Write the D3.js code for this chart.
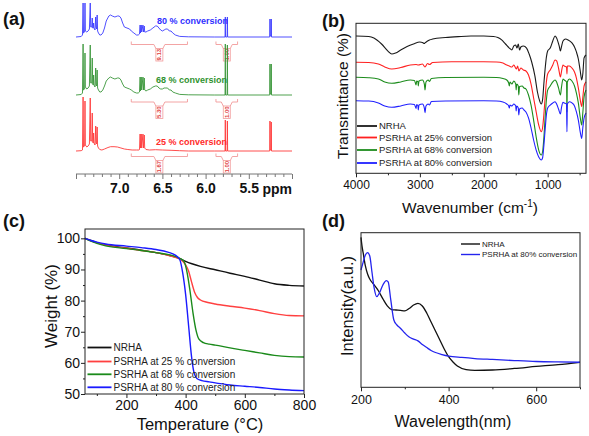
<!DOCTYPE html>
<html><head><meta charset="utf-8">
<script src="https://cdnjs.cloudflare.com/ajax/libs/d3/7.8.5/d3.min.js"></script>
<style>body{margin:0;background:#fff}svg{display:block}</style>
</head><body>
<svg id="c" width="589" height="436"></svg>
<script>
// ---------------- DATA ----------------
// (a) 1H NMR, [ppm, intensity a.u.]
const nmrBlue = [[7.5,0],[7.44,0.5],[7.425,2],[7.418,34],[7.413,4],[7.400,5],[7.396,34],[7.392,6],[7.375,5],[7.36,6],[7.345,8],[7.335,34],[7.330,10],[7.318,10],[7.312,19],[7.307,9],[7.30,9],[7.296,14],[7.292,9],[7.28,7],[7.272,20],[7.268,10],[7.262,8],[7.255,22],[7.25,6],[7.24,4],[7.225,2],[7.21,2],[7.19,4],[7.17,9],[7.15,16],[7.12,21],[7.10,22],[7.08,21],[7.05,20],[7.02,21],[7.0,21],[6.98,19],[6.96,14],[6.94,10],[6.91,9],[6.88,8],[6.86,6],[6.83,4],[6.80,2],[6.78,2],[6.765,3],[6.758,12],[6.754,4],[6.745,12],[6.74,5],[6.725,12],[6.72,5],[6.71,11],[6.705,5],[6.69,5],[6.67,6],[6.64,7],[6.61,9],[6.58,11],[6.56,11],[6.54,9],[6.52,7],[6.50,6],[6.48,7],[6.46,8],[6.44,8],[6.42,6],[6.40,6],[6.38,4],[6.35,2],[6.30,0.6],[6.2,0.2],[5.9,0],[5.775,0],[5.772,20],[5.769,0],[5.751,0],[5.748,20],[5.745,0],[5.258,0],[5.255,18],[5.252,1],[5.243,1],[5.240,18],[5.237,0],[5.0,0]];
const nmrGreen = [[7.5,0],[7.44,0.5],[7.425,2],[7.418,51],[7.413,5],[7.400,6],[7.396,42],[7.392,8],[7.375,6],[7.36,7],[7.345,9],[7.335,50],[7.330,12],[7.318,12],[7.312,37],[7.307,11],[7.30,10],[7.296,20],[7.292,10],[7.28,8],[7.272,27],[7.268,10],[7.262,9],[7.255,25],[7.25,7],[7.24,5],[7.225,3],[7.21,3],[7.19,5],[7.17,9],[7.15,14],[7.12,17],[7.10,18],[7.08,17],[7.05,16],[7.02,17],[7.0,17],[6.98,15],[6.96,11],[6.94,8],[6.91,7],[6.88,6],[6.86,5],[6.83,3],[6.80,2],[6.78,2],[6.765,3],[6.758,18],[6.754,4],[6.745,18],[6.74,5],[6.725,18],[6.72,5],[6.71,17],[6.705,5],[6.69,4],[6.67,5],[6.64,6],[6.61,8],[6.58,9],[6.56,9],[6.54,7],[6.52,6],[6.50,6],[6.48,7],[6.46,7],[6.44,7],[6.42,5],[6.40,5],[6.38,3],[6.35,2],[6.30,0.6],[6.2,0.2],[5.9,0],[5.775,0],[5.772,51],[5.769,0],[5.751,0],[5.748,50],[5.745,0],[5.258,0],[5.255,31],[5.252,1],[5.243,1],[5.240,31],[5.237,0],[5.0,0]];
const nmrRed = [[7.5,0],[7.44,0.3],[7.425,1],[7.418,54],[7.413,4],[7.400,5],[7.396,50],[7.392,6],[7.375,4],[7.36,5],[7.345,7],[7.335,53],[7.330,10],[7.318,10],[7.312,38],[7.307,9],[7.30,8],[7.296,18],[7.292,8],[7.28,6],[7.272,25],[7.268,8],[7.262,7],[7.255,24],[7.25,5],[7.24,3],[7.225,1.5],[7.20,1],[7.17,2],[7.13,3.5],[7.10,4.3],[7.06,4.3],[7.02,4],[6.98,3],[6.94,2],[6.90,1.5],[6.85,1],[6.80,1],[6.77,1],[6.765,1.5],[6.758,17],[6.754,3],[6.745,17],[6.74,3],[6.725,17],[6.72,3],[6.71,16],[6.705,3],[6.69,1.5],[6.65,1],[6.58,1.3],[6.5,1],[6.4,0.7],[6.3,0.3],[6.2,0],[5.9,0],[5.775,0],[5.772,31],[5.769,0],[5.751,0],[5.748,30],[5.745,0],[5.258,0],[5.255,30],[5.252,1],[5.243,1],[5.240,29],[5.237,0],[5.0,0]];
const nmrLabels = ["80 % conversion", "68 % conversion", "25 % conversion"];
const nmrIntegralValues = [["9.13","1.00"],["5.30","1.00"],["1.67","1.00"]];
const nmrIntegralRanges = [[6.86, 6.21], [5.88, 5.63]];
const nmrMajorTicks = [7.5, 7.0, 6.5, 6.0, 5.5, 5.0];
const nmrLabeledTicks = [7.0, 6.5, 6.0, 5.5];
const nmrMinorTicks = [7.4,7.3,7.2,7.1,6.9,6.8,6.7,6.6,6.4,6.3,6.2,6.1,5.9,5.8,5.7,5.6,5.4,5.3,5.2,5.1];

// (b) FTIR, [wavenumber, transmittance a.u.]
const irNRHA = [[4000,91.5],[3800,91.2],[3720,90.2],[3600,86.2],[3500,81.5],[3440,79.5],[3380,80.2],[3300,82.2],[3200,84.5],[3100,86.2],[3000,87.5],[2960,87.2],[2930,86.5],[2920,86.9],[2880,88.2],[2850,88.9],[2800,89.5],[2600,90.5],[2400,91.1],[2200,91.5],[2000,91.5],[1850,91.2],[1780,90.5],[1720,88.9],[1660,86.2],[1600,83.5],[1560,82.2],[1530,84.9],[1500,85.5],[1480,83.5],[1460,86.2],[1440,82.2],[1420,84.2],[1380,84.9],[1330,83.5],[1290,79.5],[1250,74.2],[1200,64.9],[1160,54.2],[1130,48.9],[1100,46.2],[1080,48.9],[1060,59.5],[1040,69.5],[1020,77.5],[1000,81.5],[960,83.5],[920,88.2],[885,91.5],[860,90.2],[820,84.9],[800,81.5],[785,84.2],[760,88.2],[720,89.5],[680,88.9],[620,86.9],[580,84.2],[550,80.9],[520,76.2],[490,68.2],[467,62.2],[450,66.2],[430,76.9],[400,78.9]];
const ir25 = [[4000,74],[3800,73.9],[3650,72.9],[3550,70.9],[3440,69.5],[3300,70.5],[3150,72.2],[3060,72.5],[3025,72.2],[2960,72.9],[2920,70.9],[2880,73.2],[2850,72.5],[2800,73.9],[2500,74.4],[2000,74.4],[1800,74.2],[1700,73.5],[1640,72.2],[1600,71.5],[1560,70.9],[1530,72.2],[1490,69.5],[1470,71.5],[1450,68.2],[1420,70.2],[1380,68.9],[1340,68.2],[1300,65.5],[1260,59.5],[1220,50.2],[1180,40.9],[1140,32.2],[1100,27.7],[1080,30.2],[1060,38.9],[1040,50.2],[1020,60.9],[1000,66.2],[960,68.9],[920,72.2],[885,75.5],[860,74.9],[830,70.2],[800,64.2],[785,67.5],[760,72.2],[740,71.5],[705,70.9],[698,66.2],[692,71.5],[660,71.5],[620,70.2],[580,67.5],[550,63.5],[520,56.9],[490,48.9],[467,44.5],[450,50.5],[430,58.2],[400,60.9]];
const ir68 = [[4000,64],[3800,63.7],[3650,62.9],[3550,60.9],[3440,60],[3300,60.9],[3150,62.2],[3085,61.9],[3060,58.9],[3050,61.5],[3030,60.9],[3025,58.2],[3015,61.5],[2960,62.2],[2930,59.5],[2920,55.5],[2905,60.9],[2870,62.2],[2850,61.2],[2820,63.2],[2600,63.9],[2000,64],[1800,63.9],[1700,63.2],[1640,62.2],[1610,60.2],[1600,58.2],[1590,60.9],[1560,59.5],[1530,61.5],[1500,59.5],[1493,55.5],[1485,59.5],[1460,58.2],[1452,52.2],[1440,57.9],[1400,58.2],[1370,56.9],[1340,56.2],[1300,52.2],[1260,45.5],[1220,35.5],[1180,24.2],[1140,15.5],[1100,12.2],[1080,14.2],[1060,23.5],[1040,36.9],[1020,48.9],[1000,55.5],[960,58.2],[920,60.9],[885,62.2],[860,60.9],[830,56.9],[800,52.2],[785,56.9],[760,62.9],[740,62.2],[705,60.9],[698,40.9],[692,60.9],[660,62.9],[620,61.5],[580,58.2],[550,53.5],[520,46.9],[490,37.2],[467,32.2],[450,40.2],[430,50.9],[400,55.5]];
const ir80 = [[4000,48.4],[3800,48.2],[3650,46.9],[3550,44.9],[3440,44],[3300,44.9],[3150,46.2],[3085,45.9],[3060,43.2],[3050,45.9],[3030,44.9],[3025,42.2],[3015,45.5],[2960,46.2],[2930,43.5],[2920,40.4],[2905,44.9],[2870,46.2],[2850,45.5],[2820,47.9],[2600,48.2],[2000,48.4],[1800,48.2],[1700,47.5],[1640,46.2],[1610,44.9],[1600,43.5],[1590,45.5],[1560,44.9],[1530,46.2],[1500,44.9],[1493,41.5],[1485,44.9],[1460,43.5],[1452,38.9],[1440,42.9],[1400,43.5],[1370,42.2],[1340,40.9],[1300,36.9],[1260,30.2],[1220,22.2],[1180,15.5],[1140,10.9],[1100,8.9],[1080,10.2],[1060,18.2],[1040,28.9],[1020,38.9],[1000,43.5],[960,45.5],[920,46.9],[885,47.7],[860,46.2],[830,42.9],[800,39.5],[785,43.5],[760,47.3],[740,46.9],[705,46.2],[698,27.7],[692,46.2],[660,47.7],[620,46.9],[580,44.9],[550,40.9],[520,35.5],[490,27.5],[467,23.3],[450,30.2],[430,36.9],[400,40.2]];
const irNames = ["NRHA", "PSRHA at 25% conversion", "PSRHA at 68% conversion", "PSRHA at 80% conversion"];
const irTicks = [4000, 3000, 2000, 1000];
const irMinorTicks = [3500, 2500, 1500, 500];

// (c) TGA, [temperature °C, weight %]
const tgaNRHA = [[60,100],[80,99.3],[100,98.6],[130,97.9],[200,96.9],[250,96.2],[300,95.4],[350,94.4],[380,93.5],[400,92.6],[450,91],[500,89.9],[550,88.8],[600,87.8],[650,86.6],[700,85.4],[750,84.9],[800,84.7]];
const tga25 = [[60,100],[80,99.2],[100,98.6],[130,97.8],[200,96.8],[250,96.1],[300,95.4],[350,94.3],[380,93.4],[400,91.5],[410,89.5],[420,86],[430,82.8],[440,81],[450,80.2],[475,79.4],[500,78.9],[550,78.2],[600,77.6],[650,76.8],[700,75.8],[750,75.2],[800,75.1]];
const tga68 = [[60,100],[80,99.1],[100,98.4],[130,97.6],[200,96.7],[250,96.1],[300,95.4],[350,94.6],[380,93.6],[395,92.5],[405,89],[415,83],[425,76],[435,70.5],[445,67.6],[460,66.5],[480,66],[500,65.7],[550,64.8],[600,64],[650,63.2],[700,62.4],[750,62],[800,61.9]];
const tga80 = [[60,100],[80,99.3],[100,98.8],[130,98.2],[200,97.5],[250,97],[300,96.4],[340,95.6],[365,94.6],[380,93.2],[390,89],[400,82],[410,72],[420,62],[428,57],[438,55],[455,54.3],[480,53.9],[550,52.9],[600,52.5],[650,52.1],[700,51.6],[750,51.3],[800,51.1]];
const tgaNames = ["NRHA", "PSRHA at 25 % conversion", "PSRHA at 68 % conversion", "PSRHA at 80 % conversion"];
const tgaXTicks = [200, 400, 600, 800];
const tgaXMinor = [100, 300, 500, 700];
const tgaYTicks = [50, 60, 70, 80, 90, 100];
const tgaYMinor = [55, 65, 75, 85, 95];

// (d) UV-vis, [wavelength nm, intensity a.u.]
const uvNRHA = [[200,97],[202,92],[205,86.9],[210,78.5],[215,73.3],[220,70],[230,66.2],[240,62.3],[250,57.2],[260,52.7],[270,50.3],[280,50],[290,49.7],[300,49.4],[310,51],[320,53.2],[330,54.3],[340,52.6],[350,48.1],[360,42.2],[370,36.4],[380,30.6],[390,24.8],[400,19.8],[410,16.4],[420,13.8],[440,11.5],[460,11],[500,11.2],[550,12.2],[600,13.5],[650,14.7],[700,16.2]];
const uvPSRHA = [[200,75.9],[205,81],[210,85.6],[215,87.1],[220,84.9],[225,74.6],[230,64.3],[236,58.6],[242,61],[250,66.2],[258,69],[262,68.2],[268,56.5],[275,43.5],[282,40.3],[290,38.2],[300,35.1],[310,32.5],[320,31.2],[330,30],[340,27.7],[350,25.7],[360,23.8],[370,22.5],[385,21.2],[400,20.2],[430,19.3],[460,18.6],[500,18],[550,17.3],[600,16.7],[650,16.4],[700,16.2]];
const uvNames = ["NRHA", "PSRHA at 80% conversion"];
const uvTicks = [200, 400, 600];
const uvMinor = [300, 500, 700];

// ---------------- DRAWING ----------------
const FONT = '"Liberation Sans", Arial, Helvetica, sans-serif';
const svg = d3.select("#c").style("font-family", FONT);

function styleAxis(g, size, color) {
  g.select(".domain").remove();
  g.selectAll(".tick line").attr("stroke", color || "#222").attr("stroke-width", 1);
  g.selectAll(".tick text").attr("fill", "#111").style("font-size", size + "px").style("font-family", FONT);
}
function frame(x, y) {
  svg.append("rect").attr("x", x.range()[0]).attr("y", y.range()[1])
    .attr("width", x.range()[1] - x.range()[0]).attr("height", y.range()[0] - y.range()[1])
    .attr("fill", "none").attr("stroke", "#222").attr("stroke-width", 1);
}
function title(t, x, y) {
  svg.append("text").attr("x", x).attr("y", y).text(t)
    .style("font-size", "18px").style("font-weight", "bold").attr("fill", "#111");
}
const fmtInt = d3.format("d");

// ---- (a) NMR ----
const xN = d3.scaleLinear().domain([7.5, 5.0]).range([76, 292]);
const hN = d3.scaleLinear().domain([0, 60]).range([0, 60]);
const nmrBase = [37, 95, 151];
const nmrCol = ["#3c3cff", "#3a963a", "#ff3a3a"];
const nmrTextCol = ["#2f2fff", "#2f922f", "#ff2a2a"];
const labelPos = [[157, 23.5], [156, 82.5], [156, 145]];
const bracketTop = [4.5, 4, 2.5];
[nmrBlue, nmrGreen, nmrRed].forEach((s, i) => {
  svg.append("path").datum(s)
    .attr("d", d3.line().x(d => xN(d[0])).y(d => nmrBase[i] - hN(d[1])))
    .attr("fill", "none").attr("stroke", nmrCol[i]).attr("stroke-width", 0.9);
  svg.append("text").attr("x", labelPos[i][0]).attr("y", labelPos[i][1]).text(nmrLabels[i])
    .attr("fill", nmrTextCol[i]).style("font-size", "9px").style("font-weight", "bold");
  nmrIntegralRanges.forEach((r, j) => {
    const x1 = xN(r[0]), x2 = xN(r[1]), cx = (x1 + x2) / 2;
    const b = nmrBase[i] + bracketTop[i];
    const p = d3.path();
    p.moveTo(x1, b); p.lineTo(x1, b + 3); p.lineTo(cx - 5.5, b + 3); p.lineTo(cx - 3.5, b + 7);
    p.moveTo(x2, b); p.lineTo(x2, b + 3); p.lineTo(cx + 5.5, b + 3); p.lineTo(cx + 3.5, b + 7);
    svg.append("path").attr("d", p.toString()).attr("fill", "none").attr("stroke", "#f29a9a").attr("stroke-width", 0.9);
    svg.append("rect").attr("x", cx - 3.5).attr("y", b + 7).attr("width", 7).attr("height", 12.5)
      .attr("fill", "none").attr("stroke", "#f29a9a").attr("stroke-width", 0.8);
    svg.append("text").attr("transform", `translate(${cx + 2},${b + 13.25}) rotate(-90)`)
      .attr("text-anchor", "middle").text(nmrIntegralValues[i][j])
      .attr("fill", "#e03c3c").style("font-size", "6px").style("font-weight", "bold");
  });
});
const axN = svg.append("g").attr("transform", "translate(0,174)");
axN.append("g").call(d3.axisBottom(xN).tickValues(nmrMinorTicks).tickSize(3).tickFormat(""))
  .call(g => styleAxis(g, 14, "#777"));
axN.append("g").call(d3.axisBottom(xN).tickValues(nmrMajorTicks).tickSize(5).tickPadding(4)
  .tickFormat(d => nmrLabeledTicks.includes(d) ? d.toFixed(1) : ""))
  .call(g => styleAxis(g, 14, "#777"))
  .call(g => g.selectAll(".tick text").style("font-weight", "bold"));
axN.append("line").attr("x1", xN.range()[0]).attr("x2", xN.range()[1]).attr("stroke", "#777");
svg.append("text").attr("x", xN.range()[1]).attr("y", 193.5).attr("text-anchor", "end").text("ppm")
  .style("font-size", "14px").style("font-weight", "bold").attr("fill", "#111");
title("(a)", 3, 25);

// ---- (b) FTIR ----
const xB = d3.scaleLinear().domain([4000, 400]).range([356, 586]);
const yB = d3.scaleLinear().domain([0, 100]).range([173.3, 23.3]);
const irCol = ["#1a1a1a", "#ff2020", "#1c8c1c", "#2020ff"];
[irNRHA, ir25, ir68, ir80].forEach((s, i) => {
  svg.append("path").datum(s)
    .attr("d", d3.line().x(d => xB(d[0])).y(d => yB(d[1])).curve(d3.curveMonotoneX))
    .attr("fill", "none").attr("stroke", irCol[i]).attr("stroke-width", 1.1);
});
frame(xB, yB);
svg.append("g").attr("transform", "translate(0,173.3)")
  .call(d3.axisBottom(xB).tickValues(irTicks).tickSize(4).tickPadding(3).tickFormat(fmtInt))
  .call(g => styleAxis(g, 12));
svg.append("g").attr("transform", "translate(0,173.3)")
  .call(d3.axisBottom(xB).tickValues(irMinorTicks).tickSize(2).tickFormat(""))
  .call(g => styleAxis(g, 12));
const legB = [126, 137.5, 150, 163];
irNames.forEach((n, i) => {
  svg.append("line").attr("x1", 357).attr("x2", 377).attr("y1", legB[i]).attr("y2", legB[i])
    .attr("stroke", irCol[i]).attr("stroke-width", 1.8);
  svg.append("text").attr("x", 379).attr("y", legB[i] + 3.4).text(n)
    .style("font-size", "9.5px").attr("fill", "#222");
});
svg.append("text").attr("transform", "translate(348,96) rotate(-90)").attr("text-anchor", "middle")
  .text("Transmittance (%)").style("font-size", "15.5px").attr("fill", "#111");
const wl = svg.append("text").attr("x", 470).attr("y", 213).attr("text-anchor", "middle")
  .style("font-size", "15.5px").attr("fill", "#111");
wl.append("tspan").text("Wavenumber (cm");
wl.append("tspan").attr("dy", -6).style("font-size", "10px").text("-1");
wl.append("tspan").attr("dy", 6).text(")");
title("(b)", 322, 27);

// ---- (c) TGA ----
const xC = d3.scaleLinear().domain([60, 800]).range([85, 304]);
const yC = d3.scaleLinear().domain([50, 103]).range([394, 229]);
const tgaCol = ["#111111", "#ff4040", "#1a8a1a", "#1a1aff"];
[tgaNRHA, tga25, tga68, tga80].forEach((s, i) => {
  svg.append("path").datum(s)
    .attr("d", d3.line().x(d => xC(d[0])).y(d => yC(d[1])).curve(d3.curveMonotoneX))
    .attr("fill", "none").attr("stroke", tgaCol[i]).attr("stroke-width", 1.4);
});
frame(xC, yC);
svg.append("g").attr("transform", "translate(0,394)")
  .call(d3.axisBottom(xC).tickValues(tgaXTicks).tickSize(4).tickPadding(2).tickFormat(fmtInt))
  .call(g => styleAxis(g, 14));
svg.append("g").attr("transform", "translate(0,394)")
  .call(d3.axisBottom(xC).tickValues(tgaXMinor).tickSize(2).tickFormat(""))
  .call(g => styleAxis(g, 14));
svg.append("g").attr("transform", "translate(85,0)")
  .call(d3.axisLeft(yC).tickValues(tgaYTicks).tickSize(4).tickPadding(1).tickFormat(fmtInt))
  .call(g => styleAxis(g, 14));
svg.append("g").attr("transform", "translate(85,0)")
  .call(d3.axisLeft(yC).tickValues(tgaYMinor).tickSize(2).tickFormat(""))
  .call(g => styleAxis(g, 14));
const legC = [347.5, 361.5, 374.3, 387.3];
tgaNames.forEach((n, i) => {
  svg.append("line").attr("x1", 87.5).attr("x2", 111.5).attr("y1", legC[i]).attr("y2", legC[i])
    .attr("stroke", tgaCol[i]).attr("stroke-width", 1.8);
  svg.append("text").attr("x", 113.5).attr("y", legC[i] + 3.6).text(n)
    .style("font-size", "10px").attr("fill", "#222");
});
svg.append("text").attr("transform", "translate(57,306) rotate(-90)").attr("text-anchor", "middle")
  .text("Weight (%)").style("font-size", "17px").attr("fill", "#111");
svg.append("text").attr("x", 200).attr("y", 430).attr("text-anchor", "middle")
  .text("Temperature (°C)").style("font-size", "16.5px").attr("fill", "#111");
title("(c)", 3, 227);

// ---- (d) UV ----
const xD = d3.scaleLinear().domain([200, 700]).range([361, 580]);
const yD = d3.scaleLinear().domain([0, 100]).range([387.3, 232.7]);
const uvCol = ["#111111", "#2424ee"];
[uvNRHA, uvPSRHA].forEach((s, i) => {
  svg.append("path").datum(s)
    .attr("d", d3.line().x(d => xD(d[0])).y(d => yD(d[1])).curve(d3.curveMonotoneX))
    .attr("fill", "none").attr("stroke", uvCol[i]).attr("stroke-width", 1.3);
});
frame(xD, yD);
svg.append("g").attr("transform", "translate(0,387.3)")
  .call(d3.axisBottom(xD).tickValues(uvTicks).tickSize(4).tickPadding(4).tickFormat(fmtInt))
  .call(g => styleAxis(g, 12.5));
svg.append("g").attr("transform", "translate(0,387.3)")
  .call(d3.axisBottom(xD).tickValues(uvMinor).tickSize(2).tickFormat(""))
  .call(g => styleAxis(g, 12.5));
const legD = [244, 254.5];
uvNames.forEach((n, i) => {
  svg.append("line").attr("x1", 461).attr("x2", 480).attr("y1", legD[i]).attr("y2", legD[i])
    .attr("stroke", uvCol[i]).attr("stroke-width", 1.4);
  svg.append("text").attr("x", 482).attr("y", legD[i] + 2.9).text(n)
    .style("font-size", "8px").attr("fill", "#222");
});
svg.append("text").attr("transform", "translate(353,306) rotate(-90)").attr("text-anchor", "middle")
  .text("Intensity(a.u.)").style("font-size", "16.5px").attr("fill", "#111");
svg.append("text").attr("x", 453).attr("y", 427).attr("text-anchor", "middle")
  .text("Wavelength(nm)").style("font-size", "16px").attr("fill", "#111");
title("(d)", 322, 227);
</script>
</body></html>
